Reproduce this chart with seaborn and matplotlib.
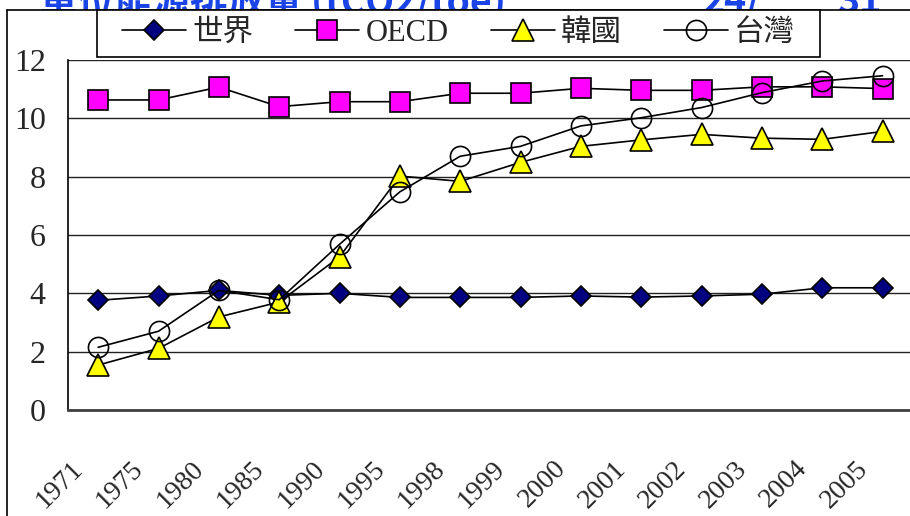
import numpy as np
import pandas as pd
import matplotlib
matplotlib.use('Agg')
import matplotlib.pyplot as plt
import matplotlib.transforms as mtransforms
from matplotlib.lines import Line2D
from matplotlib.patches import Rectangle
import seaborn as sns

# data
years = ['1971', '1975', '1980', '1985', '1990', '1995', '1998',
         '1999', '2000', '2001', '2002', '2003', '2004', '2005']
world = [3.76, 3.91, 4.10, 3.93, 4.00, 3.86, 3.86, 3.86, 3.91, 3.87, 3.91, 3.97, 4.19, 4.19]
oecd = [10.63, 10.63, 11.07, 10.40, 10.57, 10.57, 10.86, 10.86, 11.03, 10.96, 10.96, 11.08, 11.08, 11.02]
korea = [1.54, 2.11, 3.19, 3.70, 5.25, 8.02, 7.84, 8.49, 9.04, 9.26, 9.45, 9.32, 9.28, 9.55]
taiwan = [2.15, 2.70, 4.10, 3.78, 5.68, 7.48, 8.70, 9.04, 9.74, 10.02, 10.37, 10.88, 11.28, 11.46]
names = ['世界', 'OECD', '韓國', '台灣']
yticks = [0, 2, 4, 6, 8, 10, 12]

sns.set_style('white')
plt.rcParams['font.family'] = ['Liberation Serif', 'Noto Sans CJK TC']

W, H = 910, 516
fig = plt.figure(figsize=(W / 100, H / 100), dpi=100)

# slide title behind the chart area (only its lower edge shows)
fig.text(40 / W, 1 - 13 / H, '單位能源排放量 (tCO2/toe)', color='#1a44e6', fontsize=27,
         fontweight='bold', family=['Noto Sans CJK TC', 'DejaVu Sans'], va='baseline', zorder=-3)
fig.text(703 / W, 1 - 13 / H, '24/', color='#1a44e6', fontsize=27, fontweight='bold',
         family=['Noto Sans CJK TC'], va='baseline', zorder=-3)
fig.text(837 / W, 1 - 13 / H, '31', color='#1a44e6', fontsize=27, fontweight='bold',
         family=['Noto Sans CJK TC'], va='baseline', zorder=-3)
fig.add_artist(Rectangle((7 / W, 0), 1, 1 - 10 / H, transform=fig.transFigure,
                         facecolor='white', edgecolor='none', zorder=-2))
fig.add_artist(Line2D([7 / W, 7 / W], [0, 1 - 10 / H], transform=fig.transFigure, color='black', lw=1.2))
fig.add_artist(Line2D([7 / W, 1], [1 - 10 / H, 1 - 10 / H], transform=fig.transFigure, color='black', lw=1.2))

ax = fig.add_axes([68 / W, 1 - 410 / H, 1 - 68 / W + 0.003, 350 / H])
ax.set_facecolor('none')

styles = [
    (world, 'D', 10.5, '#000080'),
    (oecd, 's', 15, '#FF00FF'),
    (korea, '^', 16, '#FFFF00'),
    (taiwan, 'o', 14.5, 'none'),
]
for (vals, m, ms, fc), name in zip(styles, names):
    sns.lineplot(x=years, y=vals, ax=ax, sort=False, color='black', lw=1.2,
                 marker=m, markersize=ms, markerfacecolor=fc, markeredgecolor='black',
                 markeredgewidth=1.2, label=name)

handles, labels = ax.get_legend_handles_labels()
if ax.get_legend() is not None:
    ax.get_legend().remove()

ax.set_xlim(-0.5, len(years) - 0.5)
ax.set_ylim(0, 12)
ax.set_yticks(yticks)
ax.set_yticklabels([str(v) for v in yticks], fontsize=23)
ax.set_xticks(range(len(years)))
ax.set_xticklabels(years, fontsize=20, rotation=45, ha='right', va='top')
ax.set_xticks(np.arange(0.5, len(years) - 1, 1), minor=True)
ax.set_xlabel('')
ax.set_ylabel('')

ax.tick_params(axis='x', which='major', length=0, pad=0)
ax.tick_params(axis='x', which='minor', direction='in', length=7, width=1, color='#333333')
ax.tick_params(axis='y', length=0, pad=16)
offset = mtransforms.ScaledTranslation(-0.10, -0.46, fig.dpi_scale_trans)
for lab in ax.get_xticklabels():
    lab.set_transform(lab.get_transform() + offset)

ax.yaxis.grid(True, color='#222222', lw=1)
ax.xaxis.grid(False)
ax.set_axisbelow(True)
for s in ['top', 'right']:
    ax.spines[s].set_visible(False)
ax.spines['left'].set_color('black')
ax.spines['left'].set_linewidth(1.2)
ax.spines['bottom'].set_color('#404040')
ax.spines['bottom'].set_linewidth(2)

# legend box drawn separately so the entries can sit inset in it
fig.add_artist(Rectangle((97 / W, 1 - 57 / H), (820 - 97) / W, 47 / H, transform=fig.transFigure,
                         facecolor='white', edgecolor='black', lw=1.2, zorder=4))
leg = fig.legend(handles, labels, loc='center left', ncol=4, mode='expand',
                 bbox_to_anchor=(122 / W, 1 - 57 / H, (795 - 122) / W, 47 / H),
                 bbox_transform=fig.transFigure, borderaxespad=0, frameon=False,
                 handlelength=2.1, handletextpad=0.2, borderpad=0, prop={'size': 22})
leg.set_zorder(5)
for t in leg.get_texts():
    t.set_family(['Liberation Serif', 'Noto Sans CJK TC'])

fig.savefig('out.png', dpi=100)
